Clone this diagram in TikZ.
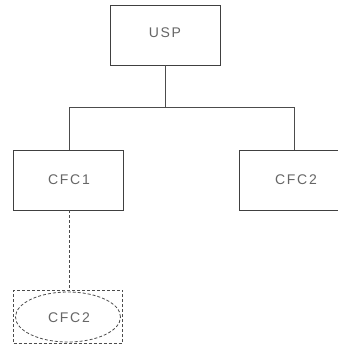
\documentclass[tikz,border=0pt]{standalone}
\usepackage{fontspec}
\setmainfont{Liberation Sans}[LetterSpace=12]
\usetikzlibrary{shapes.geometric}
\begin{document}
\begin{tikzpicture}[x=1pt,y=-1pt,
  box/.style={draw=black!75,line width=0.9pt,minimum width=110pt,minimum height=60pt,inner sep=0pt},
  lbl/.style={font=\fontsize{14}{16}\selectfont,text=black!60},
  conn/.style={draw=black!70,line width=0.9pt},
  dconn/.style={draw=black!70,line width=0.8pt,dashed,dash pattern=on 3pt off 2pt}]
\clip (0,0) rectangle (338,357);
\fill[white] (0,0) rectangle (338,357);
\node[box] (usp) at (165,35) {};
\node[lbl] (usptxt) at (165,33) {USP};
\node[box] (cfc1) at (68,180) {};
\node[lbl] (cfc1txt) at (69,180) {CFC1};
\node[box] (cfc2) at (294,180) {};
\node[lbl] (cfc2txt) at (296,180) {CFC2};
\coordinate (j) at (165,107);
\draw[conn] (usp.south) -- (j);
\draw[conn] (cfc1.north -| 69,0) -- (69,107) -- (294,107) -- (cfc2.north);
\node[draw=black!70,line width=0.8pt,dashed,dash pattern=on 3pt off 2pt,minimum width=109pt,minimum height=53pt,inner sep=0pt] (frame) at (68,316.5) {};
\node[ellipse,draw=black!70,line width=0.8pt,dashed,dash pattern=on 3pt off 2pt,minimum width=105pt,minimum height=50pt,inner sep=0pt] (ell) at (68,317) {};
\node[lbl] (elltxt) at (69,318) {CFC2};
\draw[dconn] (cfc1.south -| 69,0) -- (frame.north -| 69,0);
\end{tikzpicture}
\end{document}
